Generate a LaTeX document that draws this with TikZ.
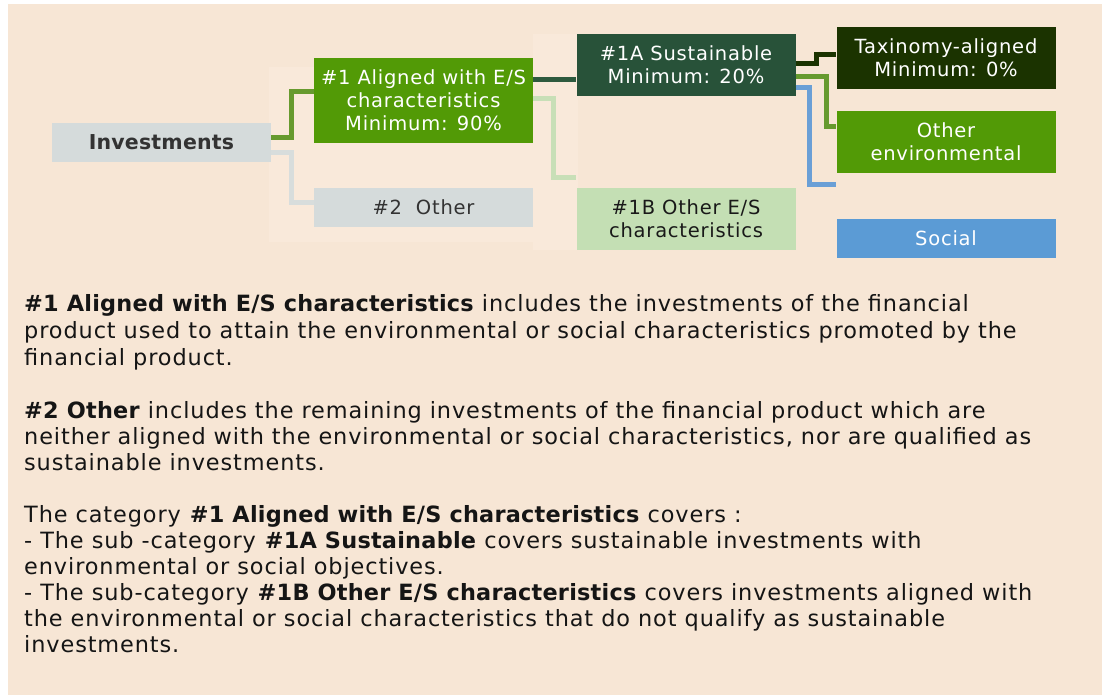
\documentclass[tikz,border=0pt]{standalone}
\usepackage{fontspec}
\setmainfont[LetterSpace=4,BoldFeatures={LetterSpace=1}]{DejaVu Sans}
\usetikzlibrary{calc}

\definecolor{peach}{HTML}{F7E6D5}
\definecolor{paler}{HTML}{F9E9DA}
\definecolor{greyfill}{HTML}{D5DBDB}
\definecolor{greyline}{HTML}{D8DDDC}
\definecolor{leaf}{HTML}{529A06}
\definecolor{leafline}{HTML}{679A2E}
\definecolor{forest}{HTML}{285239}
\definecolor{forestline}{HTML}{2E5A3E}
\definecolor{night}{HTML}{1B3300}
\definecolor{mint}{HTML}{C4DFB4}
\definecolor{mintline}{HTML}{C8DFB7}
\definecolor{sky}{HTML}{5B9BD5}
\definecolor{skyline}{HTML}{6A9FD6}
\definecolor{ink}{HTML}{151515}

\begin{document}
\begin{tikzpicture}[x=1pt,y=-1pt,
  box/.style={minimum width=219pt, minimum height=39pt, inner sep=0pt,
    align=center, font=\fontsize{19.5}{23}\selectfont},
  tall/.style={box, minimum height=62pt},
  lnk/.style={line width=5pt},
  para/.style={anchor=base west, inner sep=0pt, align=left, text=ink,
    font=\fontsize{22.4}{26}\selectfont}]
\useasboundingbox (0,0) rectangle (1102,695);
\fill[white] (0,0) rectangle (1102,695);
\fill[peach] (8,4) rectangle (1102,695);
\fill[paler] (269,67) rectangle (533,242);
\fill[paler] (533,34) rectangle (578,250);

% boxes
\node[box, fill=greyfill, text=black!80, font=\fontsize{20.5}{23}\selectfont\bfseries] (inv) at (161.5,142.5) {Investments};
\node[box, fill=leaf, text=white, minimum height=85pt] (al) at (423.5,100.5) {\#1 Aligned with E/S\\characteristics\\Minimum: 90\%};
\node[box, fill=greyfill, text=black!80] (oth) at (423.5,207.5) {\#2\ \ Other};
\node[tall, fill=forest, text=white] (sus) at (686,65) {\#1A Sustainable\\Minimum: 20\%};
\node[tall, fill=mint, text=black!90] (oes) at (686,219) {\#1B Other E/S\\characteristics};
\node[tall, fill=night, text=white] (tax) at (946,58) {Taxinomy-aligned\\Minimum: 0\%};
\node[tall, fill=leaf, text=white] (env) at (946,142) {Other\\environmental};
\node[box, fill=sky, text=white] (soc) at (946,238.5) {Social};

% links
\draw[lnk, leafline] ([yshift=4.5pt]inv.east) -| ([xshift=-22pt,yshift=8.5pt]al.west) -- ([yshift=8.5pt]al.west);
\draw[lnk, greyline] ([yshift=-10.5pt]inv.east) -| ([xshift=-22pt,yshift=5.5pt]oth.west) -- ([yshift=5.5pt]oth.west);
\draw[lnk, forestline] ([yshift=20.5pt]al.east) -- ([yshift=20.5pt]al.east -| sus.west);
\draw[lnk, mintline] ([yshift=1.5pt]al.east) -| ([xshift=-23pt,yshift=41pt]oes.west) -- ([yshift=41pt]oes.west);
\draw[lnk, night] ([yshift=1pt]sus.east) -| ([xshift=-20pt,yshift=3pt]tax.west) -- ([yshift=3pt]tax.west);
\draw[lnk, leafline] ([yshift=-12pt]sus.east) -| ([xshift=-10pt,yshift=15pt]env.west) -- ([yshift=15pt]env.west);
\draw[lnk, skyline] ([yshift=-23pt]sus.east) -| ([xshift=-27pt,yshift=53.5pt]soc.west) -- ([yshift=53.5pt]soc.west);

% text (base = last line)
\node[para, font=\fontsize{22.4}{27}\selectfont] (p1) at (24,365) {\textbf{\#1 Aligned with E/S characteristics} includes the investments of the financial\\
product used to attain the environmental or social characteristics promoted by the\\
financial product.};
\node[para] (p2) at (24,470) {\textbf{\#2 Other} includes the remaining investments of the financial product which are\\
neither aligned with the environmental or social characteristics, nor are qualified as\\
sustainable investments.};
\node[para] (p3) at (24,652) {The category \textbf{\#1 Aligned with E/S characteristics} covers :\\
- The sub -category \textbf{\#1A Sustainable} covers sustainable investments with\\
environmental or social objectives.\\
- The sub-category \textbf{\#1B Other E/S characteristics} covers investments aligned with\\
the environmental or social characteristics that do not qualify as sustainable\\
investments.};
\end{tikzpicture}
\end{document}
